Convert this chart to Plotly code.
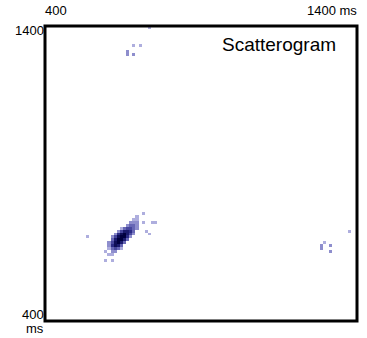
import numpy as np
import plotly.graph_objects as go

# Main cluster rows: RR(n+1) [ms] -> list of (RR(n) [ms], count) in 10 ms bins
core_rows = {
    760: [(710, 1)],
    750: [(690, 1)],
    740: [(680, 1), (690, 1)],
    730: [(670, 2), (680, 2), (690, 2), (710, 1), (740, 1), (750, 1)],
    720: [(660, 2), (670, 3), (680, 3), (690, 2)],
    710: [(640, 1), (650, 3), (660, 4), (670, 4), (680, 3), (690, 2)],
    700: [(630, 2), (640, 4), (650, 6), (660, 6), (670, 5), (680, 3), (720, 1)],
    690: [(620, 2), (630, 5), (640, 7), (650, 8), (660, 6), (670, 4), (680, 2), (730, 1)],
    680: [(530, 1), (610, 2), (620, 4), (630, 7), (640, 8), (650, 8), (660, 5), (670, 2)],
    670: [(610, 3), (620, 6), (630, 8), (640, 8), (650, 6), (660, 3)],
    660: [(600, 2), (610, 4), (620, 7), (630, 8), (640, 6), (650, 3)],
    650: [(600, 2), (610, 5), (620, 7), (630, 6), (640, 3)],
    640: [(600, 1), (610, 3), (620, 4), (630, 3), (640, 1)],
    630: [(590, 1), (610, 2), (620, 2)],
    620: [(600, 1), (610, 1)],
    600: [(590, 1), (610, 1)],
}

upper_x = [730, 680, 700, 660, 660, 680]
upper_y = [1390, 1330, 1330, 1310, 1300, 1300]
upper_n = [1, 1, 1, 2, 2, 2]

right_x = [1370, 1290, 1280, 1280, 1310, 1310]
right_y = [700, 660, 650, 640, 650, 630]
right_n = [1, 1, 2, 2, 2, 2]

xs, ys, ns = [], [], []
for y, cells in core_rows.items():
    for x, n in cells:
        xs.append(x); ys.append(y); ns.append(n)
xs += upper_x + right_x
ys += upper_y + right_y
ns += upper_n + right_n

edges = np.arange(400, 1401, 10)
centers = edges[:-1] + 5
z = np.full((len(centers), len(centers)), np.nan)
for x, y, n in zip(xs, ys, ns):
    i = int((y - 400) // 10)
    j = int((x - 400) // 10)
    z[i, j] = n

fig = go.Figure()
fig.add_trace(go.Heatmap(
    x=centers, y=centers, z=z,
    colorscale=[[0, "#aeaede"], [0.15, "#8c8ccc"], [0.35, "#5656aa"],
                [0.6, "#262680"], [1, "#00003e"]],
    zmin=1, zmax=8, showscale=False, hoverongaps=False,
))

fig.update_xaxes(range=[400, 1400], visible=False)
fig.update_yaxes(range=[400, 1400], visible=False)

fig.add_shape(type="rect", xref="paper", yref="paper", x0=0, y0=0, x1=1, y1=1,
              line=dict(color="black", width=3))

font = dict(family="Liberation Sans, Arial, sans-serif", size=13, color="black")
fig.add_annotation(x=0, y=1, xref="paper", yref="paper", text="400", showarrow=False,
                   xanchor="left", yanchor="middle", font=font, xshift=-2, yshift=15.5)
fig.add_annotation(x=1, y=1, xref="paper", yref="paper", text="1400 ms", showarrow=False,
                   xanchor="right", yanchor="middle", font=font, xshift=2, yshift=15.5)
fig.add_annotation(x=0, y=1, xref="paper", yref="paper", text="1400", showarrow=False,
                   xanchor="right", yanchor="middle", font=font, xshift=1, yshift=-4)
fig.add_annotation(x=0, y=0, xref="paper", yref="paper", text="400", showarrow=False,
                   xanchor="right", yanchor="middle", font=font, xshift=1, yshift=7)
fig.add_annotation(x=0, y=0, xref="paper", yref="paper", text="ms", showarrow=False,
                   xanchor="right", yanchor="middle", font=font, xshift=1, yshift=-7)
fig.add_annotation(x=(222 - 45) / 312, y=1, xref="paper", yref="paper", text="Scatterogram",
                   showarrow=False, xanchor="left", yanchor="middle", xshift=-2, yshift=-18,
                   font=dict(family="Liberation Sans, Arial, sans-serif", size=19, color="black"))

fig.update_layout(width=367, height=338, margin=dict(l=45, r=10, t=26, b=17),
                  paper_bgcolor="white", plot_bgcolor="white", showlegend=False)

fig.write_html("out.html")
